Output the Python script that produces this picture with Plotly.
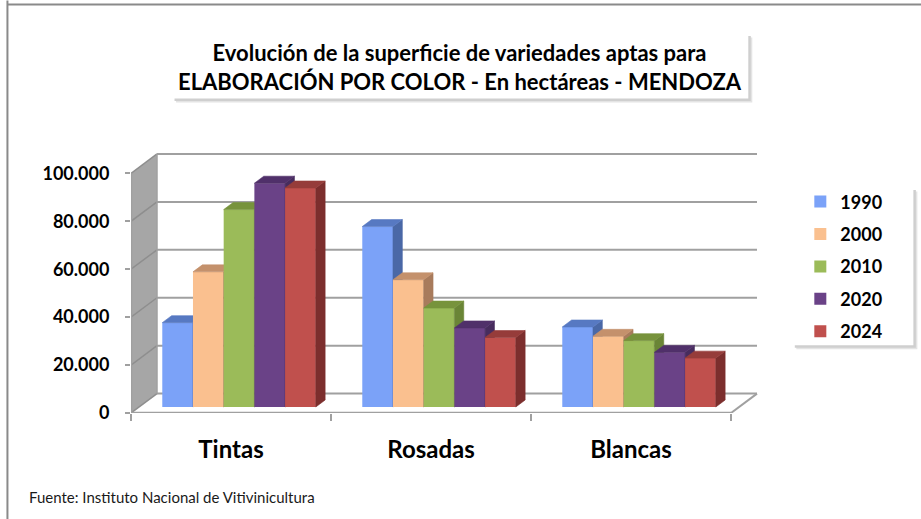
import plotly.graph_objects as go

# ---------------- data ----------------
categories = ["Tintas", "Rosadas", "Blancas"]
years = ["1990", "2000", "2010", "2020", "2024"]
values_1990 = [35200, 75300, 33400]
values_2000 = [56400, 53100, 29500]
values_2010 = [82400, 41300, 27700]
values_2020 = [93400, 33000, 22800]
values_2024 = [91400, 29000, 20400]
series_values = [values_1990, values_2000, values_2010, values_2020, values_2024]
y_ticks = [0, 20000, 40000, 60000, 80000, 100000]

title_text = ("Evolución de la superficie de variedades aptas para<br>"
              "ELABORACIÓN POR COLOR - En hectáreas - MENDOZA")
source_text = "Fuente: Instituto Nacional de Vitivinicultura"

# ---------------- styles ----------------
front_colors = ["#7BA2F8", "#FAC08F", "#9BBB59", "#6A4287", "#C0504D"]
top_colors = ["#5779C2", "#C4916C", "#77933C", "#50306A", "#963C3A"]
side_colors = ["#4A68A6", "#A87B5C", "#6A8536", "#472C5E", "#7C2E2D"]

W_PX, H_PX = 921, 519
PLOT_L, PLOT_R = 131.0, 760.7      # px
PLOT_B, PLOT_T = 412.7, 152.6      # px
X_RANGE = [-0.5, 2.65]
Y_RANGE = [0, 108500]

DX = 0.13          # full floor depth in x units
DY = 8094          # full floor depth in y units
F0 = 0.309         # depth fraction of bar front plane
FD = 0.36          # bar depth fraction
BAR_W = 0.1535
BY = F0 * DY
BDX, BDY = FD * DX, FD * DY
ncat = len(categories)
xc = list(range(ncat))

def px2paper(px, py):
    return ((px - PLOT_L) / (PLOT_R - PLOT_L), (PLOT_B - py) / (PLOT_B - PLOT_T))

fig = go.Figure()

for k, (yr, vals) in enumerate(zip(years, series_values)):
    yaxis = "y" if k == 0 else f"y{k+1}"
    off = F0 * DX - 2.5 * BAR_W + k * BAR_W
    fig.add_trace(go.Bar(
        x=xc, y=vals, base=[BY] * ncat, offset=off, width=BAR_W,
        marker=dict(color=front_colors[k], line=dict(width=0)),
        name=yr, yaxis=yaxis, legendgroup=yr, hoverinfo="skip"))
    sx, sy, tx, ty = [], [], [], []
    for c, v in zip(xc, vals):
        x0 = c + off
        x1 = x0 + BAR_W
        top = BY + v
        sx += [x1, x1 + BDX, x1 + BDX, x1, x1, None]
        sy += [BY, BY + BDY, top + BDY, top, BY, None]
        tx += [x0, x1, x1 + BDX, x0 + BDX, x0, None]
        ty += [top, top, top + BDY, top + BDY, top, None]
    fig.add_trace(go.Scatter(x=sx, y=sy, mode="lines", fill="toself",
                             fillcolor=side_colors[k],
                             line=dict(width=0.6, color=side_colors[k]),
                             showlegend=False, yaxis=yaxis, hoverinfo="skip"))
    fig.add_trace(go.Scatter(x=tx, y=ty, mode="lines", fill="toself",
                             fillcolor=top_colors[k],
                             line=dict(width=0.6, color=top_colors[k]),
                             showlegend=False, yaxis=yaxis, hoverinfo="skip"))

shapes = []
GRID = "#A0A0A0"
xl, xr = -0.5, ncat - 0.5
# left side wall
shapes.append(dict(type="path", xref="x", yref="y", layer="below",
                   path=f"M{xl},0 L{xl+DX},{DY} L{xl+DX},{y_ticks[-1]+DY} L{xl},{y_ticks[-1]} Z",
                   fillcolor="#A6A6A6", line=dict(width=0)))
# back wall
shapes.append(dict(type="rect", xref="x", yref="y", layer="below",
                   x0=xl + DX, x1=xr + DX, y0=DY, y1=y_ticks[-1] + DY,
                   fillcolor="white", line=dict(width=0)))
for t in y_ticks:
    shapes.append(dict(type="line", xref="x", yref="y", layer="below",
                       x0=xl + DX, x1=xr + DX, y0=t + DY, y1=t + DY,
                       line=dict(color=GRID, width=2)))
    shapes.append(dict(type="line", xref="x", yref="y", layer="below",
                       x0=xl, x1=xl + DX, y0=t, y1=t + DY,
                       line=dict(color="#8E8E8E", width=1.5)))
# floor edges
shapes.append(dict(type="line", xref="x", yref="y", layer="below",
                   x0=xl + DX, x1=xl + DX, y0=DY, y1=y_ticks[-1] + DY,
                   line=dict(color=GRID, width=1.5)))
shapes.append(dict(type="line", xref="x", yref="y", layer="below",
                   x0=xr, x1=xr + DX, y0=0, y1=DY, line=dict(color=GRID, width=2)))
shapes.append(dict(type="line", xref="x", yref="y", layer="below",
                   x0=xl, x1=xr, y0=0, y1=0, line=dict(color=GRID, width=2.5)))
# front value axis line
shapes.append(dict(type="line", xref="x", yref="y", layer="below",
                   x0=xl, x1=xl, y0=0, y1=y_ticks[-1], line=dict(color=GRID, width=2.5)))

# title box with shadow
for (dxs, col) in [(4, "#E4E4E4"), (2.5, "#CFCFCF")]:
    a = px2paper(172 + dxs, 33 + dxs); b = px2paper(748 + dxs, 98 + dxs)
    shapes.append(dict(type="rect", xref="paper", yref="paper", layer="above",
                       x0=a[0], y0=a[1], x1=b[0], y1=b[1], fillcolor=col, line=dict(width=0)))
a = px2paper(172, 33); b = px2paper(748, 98)
shapes.append(dict(type="rect", xref="paper", yref="paper", layer="above",
                   x0=a[0], y0=a[1], x1=b[0], y1=b[1], fillcolor="white", line=dict(width=0)))
# legend box with shadow
for (dxs, col) in [(4, "#E4E4E4"), (2.5, "#CFCFCF")]:
    a = px2paper(792 + dxs, 187 + dxs); b = px2paper(913 + dxs, 345 + dxs)
    shapes.append(dict(type="rect", xref="paper", yref="paper", layer="above",
                       x0=a[0], y0=a[1], x1=b[0], y1=b[1], fillcolor=col, line=dict(width=0)))
a = px2paper(792, 187); b = px2paper(913, 345)
shapes.append(dict(type="rect", xref="paper", yref="paper", layer="above",
                   x0=a[0], y0=a[1], x1=b[0], y1=b[1], fillcolor="white", line=dict(width=0)))
# outer chart frame (left and top edges)
a = px2paper(7.5, 0); b = px2paper(7.5, 519)
shapes.append(dict(type="line", xref="paper", yref="paper", layer="above",
                   x0=a[0], y0=a[1], x1=b[0], y1=b[1], line=dict(color="#8A8A8A", width=2)))
a = px2paper(7.5, 4); b = px2paper(921, 4)
shapes.append(dict(type="line", xref="paper", yref="paper", layer="above",
                   x0=a[0], y0=a[1], x1=b[0], y1=b[1], line=dict(color="#8A8A8A", width=2)))

FONT = "Lato"
tp = px2paper(460, 67)
sp = px2paper(27, 497)
annotations = [
    dict(text=title_text, xref="paper", yref="paper", x=tp[0], y=tp[1],
         xanchor="center", yanchor="middle", showarrow=False,
         font=dict(family=FONT, size=22, color="black", weight="bold"), align="center"),
    dict(text=source_text, xref="paper", yref="paper", x=sp[0], y=sp[1],
         xanchor="left", yanchor="middle", showarrow=False,
         font=dict(family=FONT, size=15, color="#1A1A1A")),
]

lg = px2paper(800, 183)
layout = dict(
    width=W_PX, height=H_PX,
    margin=dict(l=PLOT_L, r=W_PX - PLOT_R, t=PLOT_T, b=H_PX - PLOT_B, pad=0),
    paper_bgcolor="white", plot_bgcolor="rgba(0,0,0,0)",
    separators=",.",
    barmode="overlay",
    showlegend=True,
    legend=dict(x=lg[0], y=lg[1], xanchor="left", yanchor="top",
                bgcolor="rgba(0,0,0,0)", borderwidth=0, tracegroupgap=6,
                font=dict(family=FONT, size=18, color="black", weight="bold")),
    xaxis=dict(range=X_RANGE, tickvals=xc, ticktext=categories, showgrid=False,
               zeroline=False, showline=False, ticks="", ticklabelstandoff=20,
               tickfont=dict(family=FONT, size=24, color="black", weight="bold"),
               minor=dict(tickvals=[i - 0.5 for i in range(ncat + 1)], ticks="outside",
                          ticklen=7, tickwidth=2, tickcolor=GRID, showgrid=False),
               fixedrange=True),
    yaxis=dict(range=Y_RANGE, tickvals=y_ticks, tickformat=",d", showgrid=False,
               zeroline=False, showline=False, ticks="outside", ticklen=5,
               tickwidth=2, tickcolor=GRID, ticklabelstandoff=12,
               tickfont=dict(family=FONT, size=18, color="black", weight="bold"),
               fixedrange=True),
    shapes=shapes, annotations=annotations,
)
for k in range(1, len(years)):
    layout[f"yaxis{k+1}"] = dict(range=Y_RANGE, overlaying="y", visible=False,
                                 showgrid=False, zeroline=False, fixedrange=True)
fig.update_layout(**layout)
fig.write_html("out.html", config={"displayModeBar": False},
               post_script="document.body.style.margin='0';")
